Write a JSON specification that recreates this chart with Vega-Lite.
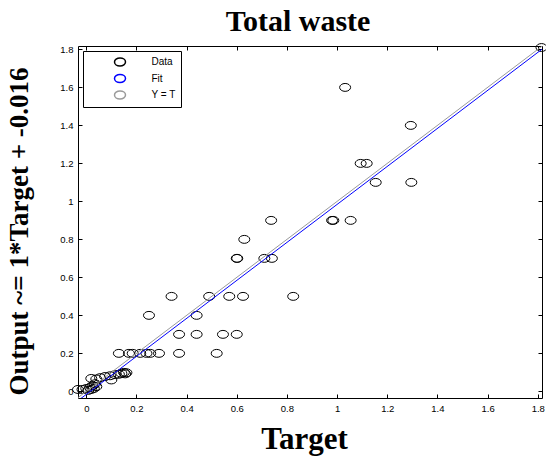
{
  "$schema": "https://vega.github.io/schema/vega-lite/v6.json",
  "width": 464,
  "height": 352,
  "autosize": "none",
  "padding": {"left": 78, "top": 46, "right": 4, "bottom": 59},
  "background": "white",
  "title": {"text": "Total waste", "font": "Liberation Serif", "fontWeight": "bold", "fontSize": 30, "offset": 5, "dx": -12, "color": "black"},
  "config": {
    "view": {"stroke": null},
    "axis": {"grid": false, "domainColor": "black", "domainWidth": 1, "tickColor": "black", "tickSize": -4, "labelColor": "black", "labelFont": "Liberation Sans", "labelFontSize": 9.5, "titleColor": "black", "titleFont": "Liberation Serif", "titleFontWeight": "bold"},
    "legend": {"title": null, "orient": "top-left", "offset": 5, "padding": 4.5, "strokeColor": "black", "fillColor": "white",
      "symbolSize": 121, "rowPadding": 1.5, "symbolOffset": 26, "labelOffset": 25, "labelFont": "Liberation Sans", "labelFontSize": 10, "labelColor": "black"}
  },
  "layer": [
    {
      "data": {"values": [
        {"T": -0.033, "O": 0.01, "s": "Data"}, {"T": -0.015, "O": 0.01, "s": "Data"}, {"T": 0.0, "O": 0.015, "s": "Data"}, {"T": 0.008, "O": 0.005, "s": "Data"},
        {"T": 0.015, "O": 0.02, "s": "Data"}, {"T": 0.02, "O": 0.01, "s": "Data"}, {"T": 0.025, "O": 0.03, "s": "Data"}, {"T": 0.03, "O": 0.015, "s": "Data"},
        {"T": 0.035, "O": 0.04, "s": "Data"}, {"T": 0.04, "O": 0.025, "s": "Data"}, {"T": 0.02, "O": 0.068, "s": "Data"}, {"T": 0.04, "O": 0.065, "s": "Data"},
        {"T": 0.055, "O": 0.072, "s": "Data"}, {"T": 0.075, "O": 0.078, "s": "Data"}, {"T": 0.095, "O": 0.082, "s": "Data"}, {"T": 0.1, "O": 0.06, "s": "Data"},
        {"T": 0.115, "O": 0.088, "s": "Data"}, {"T": 0.13, "O": 0.09, "s": "Data"}, {"T": 0.14, "O": 0.095, "s": "Data"}, {"T": 0.15, "O": 0.1, "s": "Data"},
        {"T": 0.155, "O": 0.092, "s": "Data"}, {"T": 0.16, "O": 0.098, "s": "Data"},
        {"T": 0.13, "O": 0.2, "s": "Data"}, {"T": 0.17, "O": 0.2, "s": "Data"}, {"T": 0.185, "O": 0.2, "s": "Data"}, {"T": 0.215, "O": 0.2, "s": "Data"},
        {"T": 0.24, "O": 0.2, "s": "Data"}, {"T": 0.255, "O": 0.2, "s": "Data"}, {"T": 0.29, "O": 0.2, "s": "Data"}, {"T": 0.37, "O": 0.2, "s": "Data"}, {"T": 0.52, "O": 0.2, "s": "Data"},
        {"T": 0.37, "O": 0.3, "s": "Data"}, {"T": 0.44, "O": 0.3, "s": "Data"}, {"T": 0.545, "O": 0.3, "s": "Data"}, {"T": 0.6, "O": 0.3, "s": "Data"},
        {"T": 0.25, "O": 0.4, "s": "Data"}, {"T": 0.44, "O": 0.4, "s": "Data"},
        {"T": 0.34, "O": 0.5, "s": "Data"}, {"T": 0.49, "O": 0.5, "s": "Data"}, {"T": 0.57, "O": 0.5, "s": "Data"}, {"T": 0.625, "O": 0.5, "s": "Data"}, {"T": 0.825, "O": 0.5, "s": "Data"},
        {"T": 0.6, "O": 0.7, "s": "Data"}, {"T": 0.602, "O": 0.7, "s": "Data"}, {"T": 0.71, "O": 0.7, "s": "Data"}, {"T": 0.74, "O": 0.7, "s": "Data"},
        {"T": 0.63, "O": 0.8, "s": "Data"},
        {"T": 0.737, "O": 0.9, "s": "Data"}, {"T": 0.98, "O": 0.9, "s": "Data"}, {"T": 0.985, "O": 0.9, "s": "Data"}, {"T": 1.054, "O": 0.9, "s": "Data"},
        {"T": 1.154, "O": 1.1, "s": "Data"}, {"T": 1.296, "O": 1.1, "s": "Data"},
        {"T": 1.094, "O": 1.2, "s": "Data"}, {"T": 1.118, "O": 1.2, "s": "Data"},
        {"T": 1.294, "O": 1.4, "s": "Data"}, {"T": 1.032, "O": 1.6, "s": "Data"}, {"T": 1.815, "O": 1.81, "s": "Data"}
      ]},
      "mark": {"type": "point", "shape": "M-1,0A1,0.72,0,1,1,1,0A1,0.72,0,1,1,-1,0Z", "filled": false, "size": 121, "strokeWidth": 1, "opacity": 1},
      "encoding": {
        "x": {"field": "T", "type": "quantitative", "scale": {"domain": [-0.033, 1.817], "nice": false, "zero": false},
              "axis": {"orient": "bottom", "values": [0, 0.2, 0.4, 0.6, 0.8, 1, 1.2, 1.4, 1.6, 1.8], "format": ".1~f", "labelPadding": 9, "title": "Target", "titleFontSize": 31, "titleX": 226, "titleY": 50, "titleBaseline": "alphabetic", "titleAlign": "center"}},
        "y": {"field": "O", "type": "quantitative", "scale": {"domain": [-0.035, 1.818], "nice": false, "zero": false},
              "axis": {"orient": "left", "values": [0, 0.2, 0.4, 0.6, 0.8, 1, 1.2, 1.4, 1.6, 1.8], "format": ".1~f", "labelPadding": 9, "title": "Output ~= 1*Target + -0.016", "titleFontSize": 27, "titleX": -51, "titleY": 185, "titleAngle": -90, "titleBaseline": "alphabetic", "titleAlign": "center"}},
        "stroke": {"field": "s", "type": "nominal", "title": null,
          "scale": {"domain": ["Data", "Fit", "Y = T"], "range": ["black", "blue", "#9a9a9a"]},
          "legend": {"title": null,
            "labelExpr": "datum.label === 'Y = T' ? 'Y = T      ' : datum.label",
            "encode": {"symbols": {
              "shape": {"value": {"expr": "datum.value === 'Data' ? 'M-1,0A1,0.72,0,1,1,1,0A1,0.72,0,1,1,-1,0Z' : 'M-4.18,0L4.18,0'"}},
              "stroke": {"value": {"expr": "datum.value === 'Y = T' ? '#444444' : (datum.value === 'Fit' ? '#5a5aff' : 'black')"}},
              "strokeDash": {"value": {"expr": "datum.value === 'Y = T' ? [1, 1] : [1, 0]"}},
              "strokeWidth": {"value": {"expr": "datum.value === 'Fit' ? 1.6 : 1"}},
              "fill": {"value": "transparent"},
              "opacity": {"value": 1}
            }}
          }}
      }
    },
    {
      "data": {"values": [
        {"T": -0.033, "O": -0.049, "s": "Fit"}, {"T": 1.817, "O": 1.801, "s": "Fit"},
        {"T": -0.033, "O": -0.033, "s": "Y = T"}, {"T": 1.817, "O": 1.817, "s": "Y = T"}
      ]},
      "mark": {"type": "line", "clip": true, "strokeWidth": 1},
      "encoding": {
        "x": {"field": "T", "type": "quantitative", "axis": {"orient": "top", "values": [0, 0.2, 0.4, 0.6, 0.8, 1, 1.2, 1.4, 1.6, 1.8], "labels": false, "title": null}},
        "y": {"field": "O", "type": "quantitative", "axis": {"orient": "right", "values": [0, 0.2, 0.4, 0.6, 0.8, 1, 1.2, 1.4, 1.6, 1.8], "labels": false, "title": null}},
        "stroke": {"field": "s", "type": "nominal", "title": null, "legend": null},
        "detail": {"field": "s"}
      }
    }
  ]
}
